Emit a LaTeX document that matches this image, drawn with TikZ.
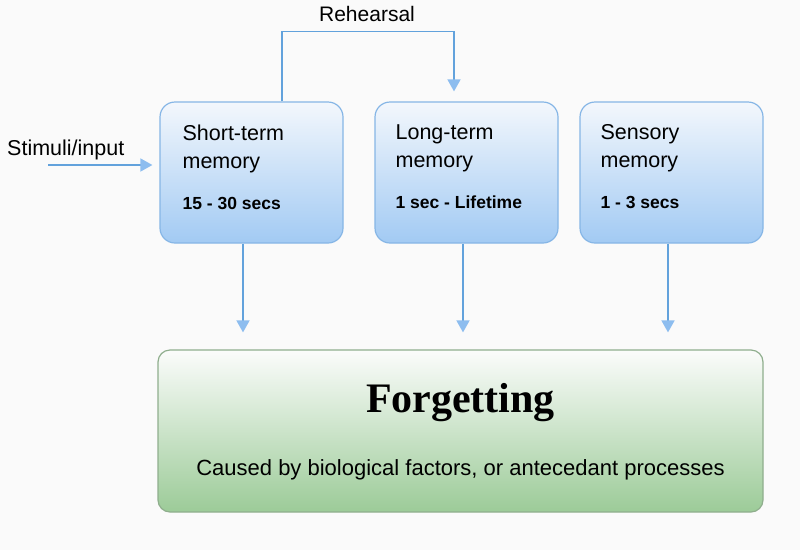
\documentclass[tikz,border=0pt]{standalone}
\usepackage{fontspec}
\setmainfont{Liberation Sans}
\newfontfamily\titlefont{Liberation Serif}
\usetikzlibrary{arrows.meta}
\definecolor{memline}{HTML}{86B6E6}
\definecolor{memtop}{HTML}{F3F7FC}
\definecolor{membot}{HTML}{A2CAF3}
\definecolor{flowblue}{HTML}{62A2DC}
\definecolor{tipblue}{HTML}{8DBDEF}
\definecolor{fgttop}{HTML}{FBFCFB}
\definecolor{fgtbot}{HTML}{9CCB98}
\definecolor{fgtline}{HTML}{8FAE8D}
\tikzstyle{membox}=[rectangle, draw=memline, line width=1.2pt, rounded corners=15pt, top color=memtop, bottom color=membot, minimum width=183pt, minimum height=141pt]
\tikzstyle{fgtbox}=[rectangle, draw=fgtline, line width=1.2pt, rounded corners=12pt, top color=fgttop, bottom color=fgtbot, minimum width=605pt, minimum height=162pt]
\tikzstyle{memtext}=[anchor=north west, inner sep=0pt, align=left, font=\fontsize{21.5}{28}\selectfont]
\tikzstyle{flow}=[draw=flowblue, line width=1.6pt, -{Triangle[width=13pt, length=12pt, color=tipblue]}]
\newcommand{\secsfont}{\fontsize{17.5}{28}\selectfont\bfseries}

\begin{document}
\begin{tikzpicture}[x=1pt, y=-1pt]
                    \fill[white!98!black] (0,0) rectangle (800,550);
                    \useasboundingbox (0,0) rectangle (800,550);
                    % memory stores
                    \node[membox] (stm)  at (251.5, 172.5) {};
                    \node[membox] (ltm)  at (466.5, 172.5) {};
                    \node[membox] (sens) at (671.5, 172.5) {};
                    \node[memtext] (stm-l)  at ([shift={(23,23)}]stm.north west) {Short-term\\memory\\[13pt]\secsfont 15 - 30 secs};
                    \node[memtext] (ltm-l)  at ([shift={(21,23)}]ltm.north west) {Long-term\\memory\\[13pt]\secsfont 1 sec - Lifetime};
                    \node[memtext] (sens-l) at ([shift={(21,23)}]sens.north west) {Sensory\\memory\\[13pt]\secsfont 1 - 3 secs};
                    % forgetting
                    \node[fgtbox] (fgt) at (460.5, 431) {};
                    \node[font=\titlefont\bfseries\fontsize{42}{48}\selectfont] (fgt-t) at (460.5, 403) {Forgetting};
                    \node[font=\fontsize{22}{26}\selectfont] (fgt-c) at (460.5, 470) {Caused by biological factors, or antecedant processes};
                    % input and rehearsal
                    \node[anchor=west, inner sep=0pt, font=\fontsize{21.5}{26}\selectfont] (stim) at (7, 150) {Stimuli/input};
                    \node[font=\fontsize{21}{26}\selectfont] (reh) at (367, 14) {Rehearsal};
                    \coordinate (in) at (48, 165);
                    \draw[flow, shorten >=7pt] (in) -- (stm.west |- in);
                    \draw[flow, shorten >=10pt] ([xshift=30.5pt]stm.north) -- ++(0,-70) -| ([xshift=-12.5pt]ltm.north);
                    % to forgetting
                    \coordinate (stm-out)  at ([xshift=-8.5pt]stm.south);
                    \coordinate (ltm-out)  at ([xshift=-3.5pt]ltm.south);
                    \coordinate (sens-out) at ([xshift=-3.5pt]sens.south);
                    \draw[flow, shorten >=17pt] (stm-out)  -- (stm-out |- fgt.north);
                    \draw[flow, shorten >=17pt] (ltm-out)  -- (ltm-out |- fgt.north);
                    \draw[flow, shorten >=17pt] (sens-out) -- (sens-out |- fgt.north);
                \end{tikzpicture}
\end{document}
